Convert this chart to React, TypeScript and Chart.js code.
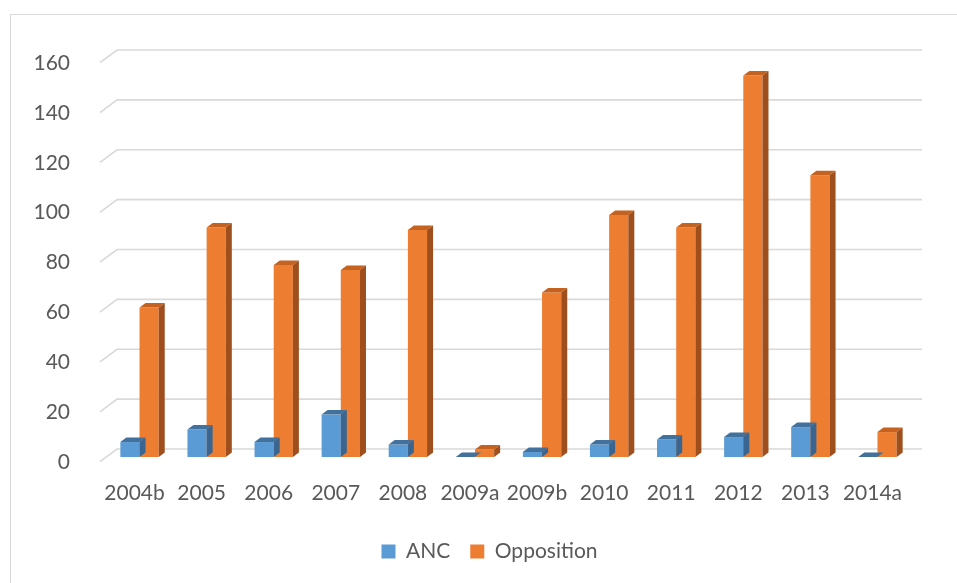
import { useEffect, useRef } from "react";
import { Chart, registerables } from "chart.js";

Chart.register(...registerables);

// Seats by election
const categories = [
  "2004b", "2005", "2006", "2007", "2008", "2009a",
  "2009b", "2010", "2011", "2012", "2013", "2014a",
];
const ancValues = [6, 11, 6, 17, 5, 0, 2, 5, 7, 8, 12, 0];
const oppositionValues = [60, 92, 77, 75, 91, 3, 66, 97, 92, 153, 113, 10];
const yMin = 0;
const yMax = 160;
const yStep = 20;

const FONT_FAMILY = "Lato, 'Open Sans', 'Liberation Sans', sans-serif";
const TEXT_COLOR = "#595959";
const GRID_COLOR = "#d9d9d9";

// pseudo-3D geometry (pixels)
const BAR_DX = 6;
const BAR_DY = 4.5;
const FRONT_DX = -6;
const FRONT_DY = 4.7;
const BACK_DX = 11;
const BACK_DY = -8;

const shades: Record<string, { top: string; side: string }> = {
  ANC: { top: "#41719c", side: "#3a6590" },
  Opposition: { top: "#c5621f", side: "#9e4f1d" },
};

const depthPlugin = {
  id: "depth3d",
  beforeDraw(chart: any) {
    const { ctx, width, height } = chart;
    ctx.save();
    ctx.fillStyle = "#ffffff";
    ctx.fillRect(0, 0, width, height);
    ctx.strokeStyle = GRID_COLOR;
    ctx.lineWidth = 1;
    ctx.strokeRect(10.5, 14.5, width + 40, height + 40);
    ctx.restore();
  },
  beforeDatasetsDraw(chart: any) {
    const { ctx, chartArea } = chart;
    const y = chart.scales.y;
    ctx.save();
    ctx.strokeStyle = GRID_COLOR;
    ctx.lineWidth = 1.6;
    y.ticks.forEach((t: any) => {
      const py = y.getPixelForValue(t.value);
      ctx.beginPath();
      ctx.moveTo(chartArea.left + FRONT_DX, py + FRONT_DY);
      ctx.lineTo(chartArea.left + BACK_DX, py + BACK_DY);
      ctx.lineTo(chartArea.right + BACK_DX, py + BACK_DY);
      ctx.stroke();
    });
    ctx.restore();
  },
  afterDatasetDraw(chart: any, args: any) {
    const { ctx } = chart;
    const ds = chart.data.datasets[args.index];
    const shade = shades[ds.label];
    if (!shade) return;
    ctx.save();
    args.meta.data.forEach((bar: any) => {
      const { x, y, base, width } = bar.getProps(["x", "y", "base", "width"], true);
      const x0 = x - width / 2;
      const x1 = x + width / 2;
      // top face
      ctx.fillStyle = shade.top;
      ctx.beginPath();
      ctx.moveTo(x0, y);
      ctx.lineTo(x1, y);
      ctx.lineTo(x1 + BAR_DX, y - BAR_DY);
      ctx.lineTo(x0 + BAR_DX, y - BAR_DY);
      ctx.closePath();
      ctx.fill();
      // right side face
      if (base - y > 0.5) {
        ctx.fillStyle = shade.side;
        ctx.beginPath();
        ctx.moveTo(x1, y);
        ctx.lineTo(x1 + BAR_DX, y - BAR_DY);
        ctx.lineTo(x1 + BAR_DX, base - BAR_DY);
        ctx.lineTo(x1, base);
        ctx.closePath();
        ctx.fill();
      }
    });
    ctx.restore();
  },
};

export default function App() {
  const canvasRef = useRef<HTMLCanvasElement | null>(null);

  useEffect(() => {
    const canvas = canvasRef.current;
    if (!canvas) return;
    const chart = new Chart(canvas, {
      type: "bar",
      data: {
        labels: categories,
        datasets: [
          {
            label: "ANC",
            data: ancValues,
            backgroundColor: "#5b9bd5",
            borderWidth: 0,
            barPercentage: 1,
            categoryPercentage: 0.572,
          },
          {
            label: "Opposition",
            data: oppositionValues,
            backgroundColor: "#ed7d31",
            borderWidth: 0,
            barPercentage: 1,
            categoryPercentage: 0.572,
          },
        ],
      },
      options: {
        responsive: false,
        animation: false,
        devicePixelRatio: 1,
        layout: {
          padding: { left: 22, right: 0, top: 58, bottom: 11 },
        },
        scales: {
          x: {
            grid: { display: false },
            border: { display: false },
            ticks: {
              color: TEXT_COLOR,
              font: { family: FONT_FAMILY, size: 21 },
              padding: 16,
              labelOffset: -5,
              maxRotation: 0,
              autoSkip: false,
            },
            afterFit: (scale: any) => {
              scale.height = 64;
            },
          },
          y: {
            min: yMin,
            max: yMax,
            grid: { display: false },
            border: { display: false },
            ticks: {
              stepSize: yStep,
              color: TEXT_COLOR,
              font: { family: FONT_FAMILY, size: 21 },
              padding: 28,
              labelOffset: 5,
            },
            afterFit: (scale: any) => {
              scale.width = 84;
            },
          },
          // empty right margin holding the depth of the back wall
          margin: {
            type: "linear",
            position: "right",
            display: true,
            grid: { display: false },
            border: { display: false },
            ticks: { display: false },
            afterFit: (scale: any) => {
              scale.width = 46;
            },
          },
        },
        plugins: {
          legend: {
            position: "bottom",
            labels: {
              color: TEXT_COLOR,
              font: { family: FONT_FAMILY, size: 21 },
              boxWidth: 14,
              boxHeight: 14,
              padding: 20,
            },
          },
          tooltip: { enabled: false },
        },
      },
      plugins: [depthPlugin],
    });
    return () => chart.destroy();
  }, []);

  return (
    <div style={{ position: "fixed", left: 0, top: 0, width: 957, height: 583, background: "#fff" }}>
      <canvas ref={canvasRef} width={957} height={583} style={{ display: "block" }} />
    </div>
  );
}
